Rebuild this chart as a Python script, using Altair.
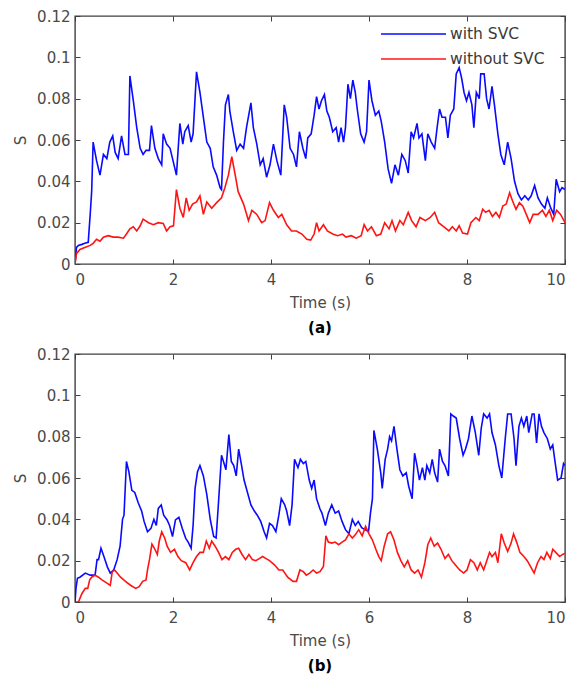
import altair as alt
import pandas as pd

FONT = "DejaVu Sans"
SERIES = ["with SVC", "without SVC"]
COLORS = ["#0a0aff", "#ff1414"]
X_TICKS = [0, 2, 4, 6, 8, 10]
Y_TICKS = [0, 0.02, 0.04, 0.06, 0.08, 0.1, 0.12]

# Panel (a): (time, S)
A_WITH = [(0,0),(0.03,0.008),(0.07,0.009),(0.14,0.0095),(0.20,0.010),(0.27,0.0105),(0.31,0.024),(0.34,0.035),(0.37,0.059),(0.44,0.050),(0.51,0.043),(0.58,0.053),(0.65,0.051),(0.71,0.059),(0.77,0.062),(0.82,0.054),(0.88,0.051),(0.95,0.062),(1.02,0.053),(1.09,0.053),(1.12,0.091),(1.19,0.079),(1.26,0.066),(1.33,0.056),(1.39,0.053),(1.45,0.055),(1.52,0.055),(1.56,0.067),(1.63,0.056),(1.70,0.051),(1.77,0.048),(1.80,0.063),(1.87,0.058),(1.94,0.056),(2.00,0.050),(2.07,0.043),(2.14,0.068),(2.20,0.058),(2.24,0.064),(2.31,0.067),(2.37,0.059),(2.41,0.063),(2.48,0.093),(2.55,0.083),(2.62,0.071),(2.69,0.059),(2.76,0.056),(2.82,0.047),(2.89,0.043),(2.96,0.037),(2.99,0.036),(3.03,0.059),(3.07,0.077),(3.13,0.082),(3.16,0.074),(3.23,0.064),(3.30,0.055),(3.37,0.058),(3.44,0.056),(3.50,0.066),(3.59,0.078),(3.64,0.066),(3.71,0.058),(3.78,0.048),(3.84,0.051),(3.91,0.042),(3.98,0.048),(4.05,0.058),(4.12,0.050),(4.20,0.043),(4.27,0.077),(4.32,0.071),(4.39,0.056),(4.46,0.053),(4.52,0.047),(4.58,0.064),(4.65,0.056),(4.71,0.051),(4.75,0.061),(4.82,0.063),(4.88,0.072),(4.93,0.081),(4.98,0.075),(5.03,0.079),(5.09,0.082),(5.14,0.074),(5.19,0.071),(5.26,0.064),(5.33,0.066),(5.38,0.059),(5.43,0.066),(5.48,0.059),(5.52,0.066),(5.57,0.087),(5.62,0.080),(5.67,0.089),(5.72,0.083),(5.76,0.075),(5.83,0.063),(5.90,0.059),(5.95,0.064),(6.00,0.089),(6.06,0.079),(6.13,0.072),(6.20,0.074),(6.25,0.069),(6.32,0.059),(6.39,0.046),(6.46,0.039),(6.53,0.048),(6.60,0.043),(6.67,0.053),(6.74,0.050),(6.80,0.044),(6.86,0.064),(6.91,0.061),(6.98,0.068),(7.02,0.061),(7.08,0.063),(7.15,0.050),(7.20,0.063),(7.27,0.059),(7.34,0.056),(7.39,0.066),(7.44,0.075),(7.49,0.071),(7.56,0.071),(7.61,0.061),(7.66,0.072),(7.73,0.075),(7.78,0.092),(7.84,0.095),(7.89,0.090),(7.94,0.083),(7.99,0.079),(8.04,0.083),(8.10,0.077),(8.14,0.066),(8.19,0.083),(8.25,0.080),(8.28,0.092),(8.35,0.092),(8.40,0.080),(8.45,0.075),(8.51,0.086),(8.56,0.077),(8.63,0.063),(8.69,0.053),(8.76,0.048),(8.83,0.059),(8.90,0.051),(8.97,0.040),(9.04,0.034),(9.11,0.031),(9.18,0.033),(9.25,0.031),(9.31,0.033),(9.38,0.038),(9.45,0.032),(9.52,0.029),(9.59,0.027),(9.64,0.032),(9.71,0.027),(9.77,0.024),(9.82,0.041),(9.89,0.035),(9.94,0.037),(10.0,0.036)]

A_WITHOUT = [(0,0),(0.03,0.005),(0.10,0.007),(0.20,0.008),(0.31,0.009),(0.37,0.010),(0.44,0.012),(0.51,0.011),(0.58,0.013),(0.68,0.0137),(0.78,0.013),(0.88,0.013),(0.99,0.0125),(1.05,0.0145),(1.12,0.017),(1.19,0.018),(1.26,0.016),(1.33,0.0185),(1.39,0.0217),(1.50,0.020),(1.60,0.019),(1.70,0.020),(1.80,0.0196),(1.87,0.016),(1.94,0.018),(2.01,0.0185),(2.07,0.036),(2.14,0.027),(2.21,0.0225),(2.27,0.032),(2.33,0.026),(2.40,0.029),(2.48,0.030),(2.55,0.033),(2.62,0.024),(2.69,0.030),(2.79,0.027),(2.89,0.0297),(2.99,0.032),(3.06,0.037),(3.13,0.043),(3.20,0.052),(3.27,0.043),(3.33,0.035),(3.44,0.029),(3.54,0.021),(3.61,0.026),(3.71,0.024),(3.81,0.020),(3.88,0.021),(3.97,0.0297),(4.05,0.026),(4.15,0.0225),(4.22,0.024),(4.32,0.019),(4.42,0.016),(4.52,0.016),(4.63,0.0145),(4.73,0.012),(4.81,0.0116),(4.88,0.0145),(4.93,0.020),(4.98,0.016),(5.07,0.019),(5.15,0.016),(5.26,0.0145),(5.36,0.0137),(5.46,0.0145),(5.53,0.013),(5.64,0.0137),(5.74,0.0125),(5.84,0.0137),(5.90,0.019),(5.97,0.016),(6.05,0.018),(6.15,0.0137),(6.24,0.0145),(6.32,0.020),(6.41,0.017),(6.47,0.021),(6.54,0.016),(6.63,0.021),(6.70,0.019),(6.80,0.025),(6.87,0.021),(6.96,0.018),(7.04,0.0225),(7.15,0.021),(7.25,0.0225),(7.34,0.025),(7.42,0.020),(7.53,0.018),(7.63,0.016),(7.70,0.018),(7.78,0.016),(7.84,0.0185),(7.91,0.015),(8.01,0.0145),(8.08,0.020),(8.18,0.0225),(8.25,0.021),(8.32,0.0265),(8.38,0.025),(8.45,0.026),(8.52,0.023),(8.59,0.025),(8.66,0.0225),(8.73,0.028),(8.80,0.029),(8.87,0.0345),(8.93,0.0305),(9.00,0.0265),(9.07,0.0297),(9.14,0.028),(9.21,0.024),(9.28,0.020),(9.35,0.024),(9.45,0.024),(9.54,0.026),(9.61,0.023),(9.68,0.026),(9.75,0.021),(9.83,0.026),(9.91,0.024),(10.0,0.020)]

# Panel (b)
B_WITH = [(0,0),(0.02,0.0066),(0.05,0.0115),(0.10,0.012),(0.21,0.014),(0.31,0.013),(0.41,0.013),(0.45,0.0205),(0.48,0.0205),(0.53,0.026),(0.59,0.022),(0.66,0.017),(0.72,0.014),(0.79,0.0155),(0.86,0.0205),(0.92,0.027),(0.97,0.040),(1.00,0.042),(1.05,0.068),(1.10,0.063),(1.16,0.054),(1.22,0.053),(1.29,0.048),(1.36,0.044),(1.41,0.039),(1.48,0.034),(1.55,0.0356),(1.61,0.040),(1.66,0.037),(1.70,0.0453),(1.76,0.047),(1.81,0.042),(1.88,0.0397),(1.93,0.037),(1.99,0.0317),(2.05,0.0397),(2.12,0.041),(2.19,0.0356),(2.26,0.0308),(2.31,0.029),(2.37,0.026),(2.41,0.037),(2.45,0.055),(2.50,0.063),(2.55,0.066),(2.62,0.061),(2.69,0.052),(2.76,0.040),(2.83,0.0317),(2.88,0.031),(2.93,0.0486),(2.99,0.071),(3.03,0.068),(3.08,0.064),(3.14,0.081),(3.19,0.068),(3.24,0.066),(3.29,0.061),(3.34,0.074),(3.40,0.066),(3.45,0.059),(3.52,0.053),(3.59,0.047),(3.66,0.044),(3.72,0.042),(3.79,0.039),(3.86,0.034),(3.91,0.031),(3.97,0.038),(4.03,0.037),(4.10,0.034),(4.16,0.042),(4.21,0.050),(4.28,0.047),(4.32,0.044),(4.38,0.037),(4.43,0.047),(4.48,0.069),(4.55,0.065),(4.60,0.069),(4.66,0.067),(4.71,0.068),(4.78,0.059),(4.83,0.055),(4.88,0.059),(4.93,0.050),(5.00,0.045),(5.04,0.043),(5.11,0.037),(5.17,0.043),(5.24,0.047),(5.31,0.043),(5.38,0.044),(5.45,0.039),(5.52,0.035),(5.59,0.033),(5.66,0.040),(5.72,0.037),(5.78,0.039),(5.85,0.036),(5.92,0.035),(5.99,0.034),(6.03,0.043),(6.07,0.050),(6.10,0.083),(6.17,0.074),(6.24,0.0625),(6.27,0.055),(6.33,0.069),(6.38,0.074),(6.42,0.080),(6.46,0.078),(6.51,0.085),(6.57,0.074),(6.63,0.064),(6.69,0.061),(6.76,0.0625),(6.81,0.056),(6.88,0.050),(6.93,0.072),(6.98,0.066),(7.03,0.059),(7.09,0.065),(7.14,0.059),(7.18,0.066),(7.24,0.0625),(7.29,0.069),(7.34,0.0625),(7.40,0.058),(7.44,0.074),(7.50,0.068),(7.55,0.066),(7.62,0.061),(7.67,0.091),(7.72,0.090),(7.78,0.089),(7.85,0.079),(7.92,0.071),(7.97,0.074),(8.03,0.079),(8.10,0.090),(8.17,0.082),(8.24,0.071),(8.29,0.084),(8.34,0.091),(8.41,0.089),(8.46,0.091),(8.51,0.082),(8.58,0.076),(8.65,0.066),(8.71,0.060),(8.78,0.079),(8.83,0.091),(8.90,0.091),(8.96,0.079),(9.00,0.066),(9.06,0.085),(9.11,0.089),(9.16,0.085),(9.22,0.090),(9.26,0.082),(9.33,0.091),(9.37,0.091),(9.42,0.077),(9.47,0.091),(9.52,0.085),(9.57,0.082),(9.64,0.079),(9.70,0.074),(9.75,0.076),(9.79,0.069),(9.85,0.059),(9.92,0.060),(9.97,0.067),(10.0,0.066)]

B_WITHOUT = [(0,0),(0.07,0.0),(0.14,0.004),(0.21,0.0066),(0.26,0.0066),(0.30,0.0107),(0.34,0.012),(0.41,0.013),(0.48,0.012),(0.55,0.0107),(0.66,0.009),(0.72,0.008),(0.76,0.0147),(0.81,0.0155),(0.86,0.014),(0.93,0.012),(1.03,0.010),(1.14,0.008),(1.24,0.0066),(1.31,0.0074),(1.38,0.010),(1.45,0.0107),(1.48,0.0155),(1.52,0.0205),(1.57,0.028),(1.62,0.026),(1.68,0.023),(1.72,0.0295),(1.77,0.034),(1.83,0.031),(1.88,0.027),(1.95,0.024),(2.03,0.0255),(2.10,0.022),(2.17,0.020),(2.26,0.019),(2.34,0.0155),(2.41,0.019),(2.48,0.022),(2.55,0.024),(2.62,0.024),(2.68,0.0295),(2.74,0.026),(2.79,0.0295),(2.86,0.027),(2.93,0.024),(3.00,0.0205),(3.07,0.022),(3.14,0.0205),(3.21,0.024),(3.28,0.0255),(3.34,0.026),(3.41,0.023),(3.48,0.0205),(3.55,0.023),(3.62,0.0205),(3.69,0.020),(3.76,0.021),(3.83,0.022),(3.90,0.021),(3.97,0.020),(4.07,0.018),(4.16,0.0155),(4.24,0.0155),(4.34,0.012),(4.45,0.010),(4.52,0.010),(4.59,0.0155),(4.66,0.0147),(4.72,0.013),(4.79,0.014),(4.86,0.0155),(4.93,0.014),(5.00,0.0147),(5.07,0.0172),(5.12,0.032),(5.17,0.029),(5.24,0.0285),(5.31,0.029),(5.38,0.0277),(5.45,0.029),(5.52,0.030),(5.59,0.033),(5.66,0.031),(5.72,0.0325),(5.79,0.035),(5.86,0.032),(5.93,0.0366),(6.00,0.033),(6.07,0.030),(6.14,0.0255),(6.20,0.022),(6.25,0.020),(6.31,0.027),(6.38,0.033),(6.44,0.034),(6.51,0.030),(6.58,0.024),(6.65,0.020),(6.72,0.017),(6.79,0.020),(6.86,0.0155),(6.93,0.014),(7.00,0.0155),(7.07,0.012),(7.14,0.019),(7.20,0.0277),(7.26,0.031),(7.33,0.027),(7.40,0.0285),(7.47,0.0255),(7.55,0.021),(7.62,0.023),(7.69,0.020),(7.76,0.018),(7.85,0.0155),(7.93,0.014),(8.00,0.0155),(8.07,0.0205),(8.14,0.019),(8.21,0.0155),(8.27,0.019),(8.34,0.0155),(8.41,0.0205),(8.46,0.024),(8.51,0.022),(8.58,0.024),(8.63,0.019),(8.70,0.033),(8.76,0.0285),(8.83,0.0245),(8.90,0.0285),(8.95,0.033),(9.02,0.0285),(9.08,0.024),(9.16,0.022),(9.23,0.020),(9.30,0.017),(9.37,0.014),(9.44,0.019),(9.51,0.022),(9.57,0.0205),(9.63,0.024),(9.70,0.021),(9.75,0.0255),(9.81,0.024),(9.89,0.022),(9.95,0.023),(10.0,0.0235)]


def frame(with_pts, without_pts):
    rows = [{"t": t, "s": v, "series": SERIES[0]} for t, v in with_pts]
    rows += [{"t": t, "s": v, "series": SERIES[1]} for t, v in without_pts]
    return pd.DataFrame(rows)


def panel(df, caption):
    xs = alt.Scale(domain=[0, 10], nice=False, zero=False)
    ys = alt.Scale(domain=[0, 0.12], nice=False)
    lines = alt.Chart(df).mark_line(strokeWidth=1.6, clip=True).encode(
        x=alt.X("t:Q", scale=xs, axis=alt.Axis(
            values=X_TICKS, title="Time (s)", orient="bottom", offset=-5,
            tickSize=5, domain=False, grid=False, labelPadding=8, titlePadding=8)),
        y=alt.Y("s:Q", scale=ys, axis=alt.Axis(
            values=Y_TICKS, format=".2~f", title="S", orient="left", offset=-5,
            tickSize=5, domain=False, grid=False, labelPadding=5, titlePadding=8)),
        color=alt.Color("series:N", scale=alt.Scale(domain=SERIES, range=COLORS),
                        legend=alt.Legend(
                            orient="none", legendX=305, legendY=7, title=None,
                            symbolType="stroke", symbolSize=4225, symbolStrokeWidth=1.6,
                            clipHeight=22, rowPadding=3, labelFontSize=15.5,
                            labelFont=FONT, labelColor="#3a3a3a", labelOffset=3,
                            padding=0)),
        order="t:Q",
    )
    ticks = alt.Chart(df).mark_line(opacity=0).encode(
        x=alt.X("t:Q", scale=xs, axis=alt.Axis(
            values=X_TICKS, orient="top", offset=-5, tickSize=5, labels=False,
            domain=False, grid=False, title=None)),
        y=alt.Y("s:Q", scale=ys, axis=alt.Axis(
            values=Y_TICKS, orient="right", offset=-5, tickSize=5, labels=False,
            domain=False, grid=False, title=None)),
    )
    return alt.layer(lines, ticks).resolve_axis(x="independent", y="independent").properties(
        width=490, height=248,
        title=alt.TitleParams(caption, orient="bottom", anchor="middle", frame="group",
                              fontSize=15, fontWeight="bold", font=FONT, color="#000000",
                              offset=11),
    )


chart = alt.vconcat(
    panel(frame(A_WITH, A_WITHOUT), "(a)"),
    panel(frame(B_WITH, B_WITHOUT), "(b)"),
    spacing=9,
).properties(
    padding={"left": 4, "top": 0, "right": 5, "bottom": 0},
).configure_view(
    stroke="#404040", strokeWidth=1.4,
).configure_axis(
    labelFont=FONT, labelFontSize=15, labelColor="#4a4a4a",
    tickColor="#404040", tickWidth=1,
    titleFont=FONT, titleFontSize=15, titleFontWeight="normal", titleColor="#4a4a4a",
)

chart.save("out.html", embed_options={"renderer": "svg", "actions": False})
